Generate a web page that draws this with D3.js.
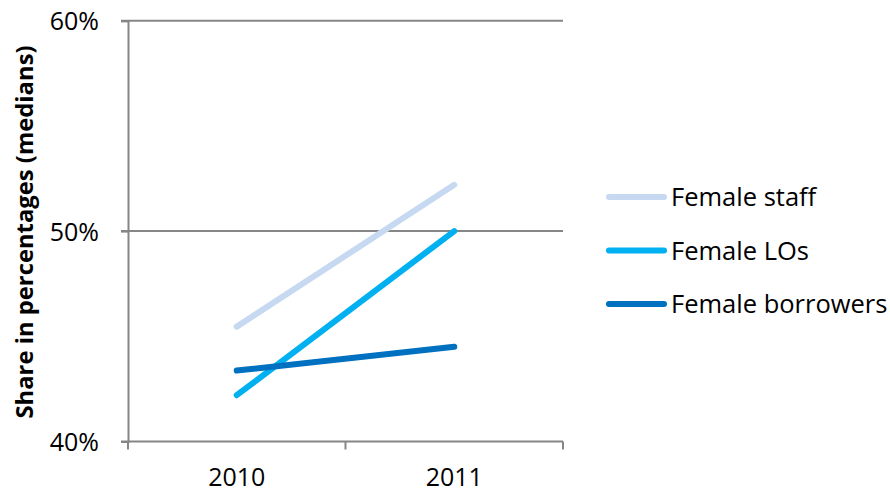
<!DOCTYPE html>
<html>
<head>
<meta charset="utf-8">
<script src="https://cdn.jsdelivr.net/npm/d3@7"></script>
<style>
  html, body { margin: 0; padding: 0; background: #fff; }
  svg { display: block; }
  text { font-family: "Open Sans", sans-serif; fill: #000; }
</style>
</head>
<body>
<svg id="chart" width="890" height="491"></svg>
<script>
const categories = ["2010", "2011"];
const seriesNames = ["Female staff", "Female LOs", "Female borrowers"];
const femaleStaff = [45.46, 52.2];
const femaleLOs = [42.2, 50.0];
const femaleBorrowers = [43.37, 44.5];
const yTicks = [40, 50, 60];
const seriesColors = ["#C6D9F1", "#00B0F0", "#0070C0"];

const series = [femaleStaff, femaleLOs, femaleBorrowers].map((v, i) => ({
  name: seriesNames[i], values: v, color: seriesColors[i]
}));

const svg = d3.select("#chart");
const mLeft = 128, mRight = 563, mTop = 20.7, mBottom = 441.5;

const x = d3.scaleBand().domain(categories).range([mLeft, mRight]);
const y = d3.scaleLinear().domain([40, 60]).range([mBottom, mTop]);

// gridlines
svg.append("g").selectAll("line").data(yTicks.filter(t => t !== 40)).join("line")
  .attr("x1", mLeft - 7).attr("x2", mRight)
  .attr("y1", d => y(d)).attr("y2", d => y(d))
  .attr("stroke", "#868686").attr("stroke-width", 2);

// y axis
const yAxis = d3.axisLeft(y).tickValues(yTicks).tickSize(7).tickFormat(d => d + "%");
const gy = svg.append("g").attr("transform", `translate(${mLeft},0)`).call(yAxis);
gy.select(".domain").attr("stroke", "#868686").attr("stroke-width", 2);
gy.selectAll(".tick line").attr("stroke", "#868686").attr("stroke-width", 2);
gy.selectAll(".tick text").attr("x", -29).attr("dy", "0.36em").style("font-size", "25px")
  .style("font-family", "'Open Sans', sans-serif").attr("fill", "#000");

// x axis
const xAxis = d3.axisBottom(x).tickSize(0).tickSizeOuter(0);
const gx = svg.append("g").attr("transform", `translate(0,${mBottom})`).call(xAxis);
gx.select(".domain").attr("stroke", "#868686").attr("stroke-width", 2)
  .attr("d", `M${mLeft - 7},0H${mRight}`);
gx.selectAll(".tick text").attr("y", 44).attr("dy", "0").style("font-size", "25px")
  .style("font-family", "'Open Sans', sans-serif").attr("fill", "#000");
// category boundary ticks
const bounds = categories.map(c => x(c)).concat([x(categories[categories.length - 1]) + x.bandwidth()]);
gx.append("g").selectAll("line").data(bounds).join("line")
  .attr("x1", d => d).attr("x2", d => d).attr("y1", 0).attr("y2", 8)
  .attr("stroke", "#868686").attr("stroke-width", 2);

// lines
const line = d3.line().x((d, i) => x(categories[i]) + x.bandwidth() / 2).y(d => y(d));
svg.append("g").selectAll("path").data(series).join("path")
  .attr("d", d => line(d.values))
  .attr("fill", "none").attr("stroke", d => d.color)
  .attr("stroke-width", 6).attr("stroke-linecap", "round");

// y title
svg.append("text")
  .attr("transform", `translate(33,232) rotate(-90)`)
  .attr("text-anchor", "middle")
  .style("font-size", "23.8px").style("font-weight", "bold")
  .text("Share in percentages (medians)");

// legend
const legY = [197, 250.5, 304];
const leg = svg.append("g").selectAll("g").data(series).join("g")
  .attr("transform", (d, i) => `translate(0,${legY[i]})`);
leg.append("line").attr("x1", 609).attr("x2", 664).attr("y1", 0).attr("y2", 0)
  .attr("stroke", d => d.color).attr("stroke-width", 6).attr("stroke-linecap", "round");
leg.append("text").attr("x", 671).attr("y", 9)
  .style("font-size", "25.5px").text(d => d.name);
</script>
</body>
</html>
